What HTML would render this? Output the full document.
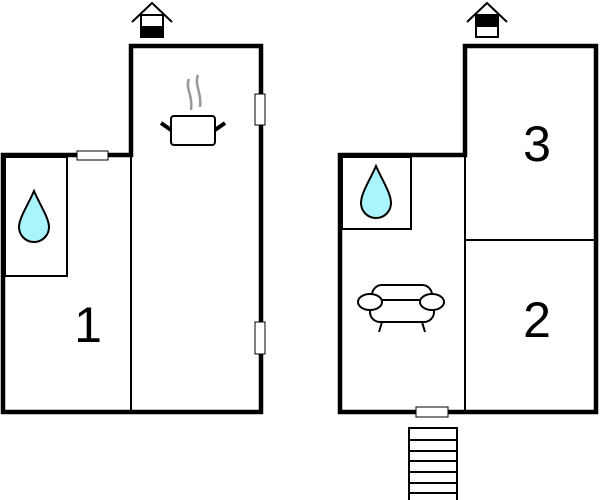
<!DOCTYPE html>
<html><head><style>body{margin:0;background:#fff}svg{display:block}</style></head><body>
<svg width="601" height="500" viewBox="0 0 601 500" xmlns="http://www.w3.org/2000/svg" font-family="Liberation Sans, sans-serif">
<g fill="none" stroke="#000">
<path d="M3 412 V155 H131 V46 H261 V412 Z" stroke-width="4.5"/>
<line x1="131" y1="155" x2="131" y2="412" stroke-width="2"/>
<rect x="5" y="157" width="62" height="119" stroke-width="2"/>
</g>
<rect x="77" y="151" width="31" height="9" fill="#fff" stroke="#000" stroke-width="1"/>
<rect x="255" y="94" width="10" height="31" fill="#fff" stroke="#000" stroke-width="1"/>
<rect x="255" y="322" width="10" height="32" fill="#fff" stroke="#000" stroke-width="1"/>
<path d="M34 191 C28 205 19 218 19 227 A15 15 0 0 0 49 227 C49 218 40 205 34 191 Z" fill="#aaf4fb" stroke="#000" stroke-width="2"/>
<text x="88" y="342" font-size="50" text-anchor="middle">1</text>
<g stroke="#000" fill="none">
<rect x="171" y="116" width="44" height="29" rx="3" stroke-width="2" fill="#fff"/>
<line x1="161" y1="123" x2="171" y2="130" stroke-width="4"/>
<line x1="225" y1="123" x2="215" y2="130" stroke-width="4"/>
</g>
<g stroke="#999" fill="none" stroke-width="2.5">
<path d="M189 79 C185 88 193 95 191 110"/>
<path d="M198 75 C194 85 202 93 200 107"/>
</g>
<g stroke="#000" fill="none" stroke-width="2">
<path d="M132 22 L152 3 L172 22"/>
<rect x="141" y="15" width="22" height="22" fill="#fff"/>
<rect x="141" y="27" width="22" height="10" fill="#000"/>
</g>
<g fill="none" stroke="#000">
<path d="M340 412 V155 H465 V46 H596 V412 Z" stroke-width="4.5"/>
<line x1="465" y1="155" x2="465" y2="412" stroke-width="2"/>
<line x1="465" y1="240" x2="596" y2="240" stroke-width="2"/>
<rect x="342" y="157" width="69" height="72" stroke-width="2"/>
</g>
<rect x="416" y="407" width="32" height="10" fill="#fff" stroke="#000" stroke-width="1"/>
<path d="M376 166 C370 180 361 193 361 203 A15 15 0 0 0 391 203 C391 193 382 180 376 166 Z" fill="#aaf4fb" stroke="#000" stroke-width="2"/>
<text x="537" y="161" font-size="50" text-anchor="middle">3</text>
<text x="537" y="337" font-size="50" text-anchor="middle">2</text>
<g stroke="#000" fill="#fff" stroke-width="2">
<rect x="372" y="285" width="60" height="22" rx="10"/>
<rect x="370" y="300" width="64" height="22" rx="10"/>
<ellipse cx="370" cy="302" rx="12" ry="8"/>
<ellipse cx="432" cy="302" rx="12" ry="8"/>
<line x1="382" y1="322" x2="379" y2="332"/>
<line x1="422" y1="322" x2="425" y2="332"/>
</g>
<g stroke="#000" fill="none" stroke-width="2">
<rect x="409" y="428" width="48" height="80"/>
<line x1="409" y1="440" x2="457" y2="440"/>
<line x1="409" y1="451" x2="457" y2="451"/>
<line x1="409" y1="461" x2="457" y2="461"/>
<line x1="409" y1="472" x2="457" y2="472"/>
<line x1="409" y1="483" x2="457" y2="483"/>
<line x1="409" y1="493" x2="457" y2="493"/>
</g>
<g stroke="#000" fill="none" stroke-width="2">
<path d="M467 22 L487 3 L507 22"/>
<rect x="476" y="15" width="22" height="22" fill="#fff"/>
<rect x="476" y="15" width="22" height="11" fill="#000"/>
</g>
</svg>
</body></html>
